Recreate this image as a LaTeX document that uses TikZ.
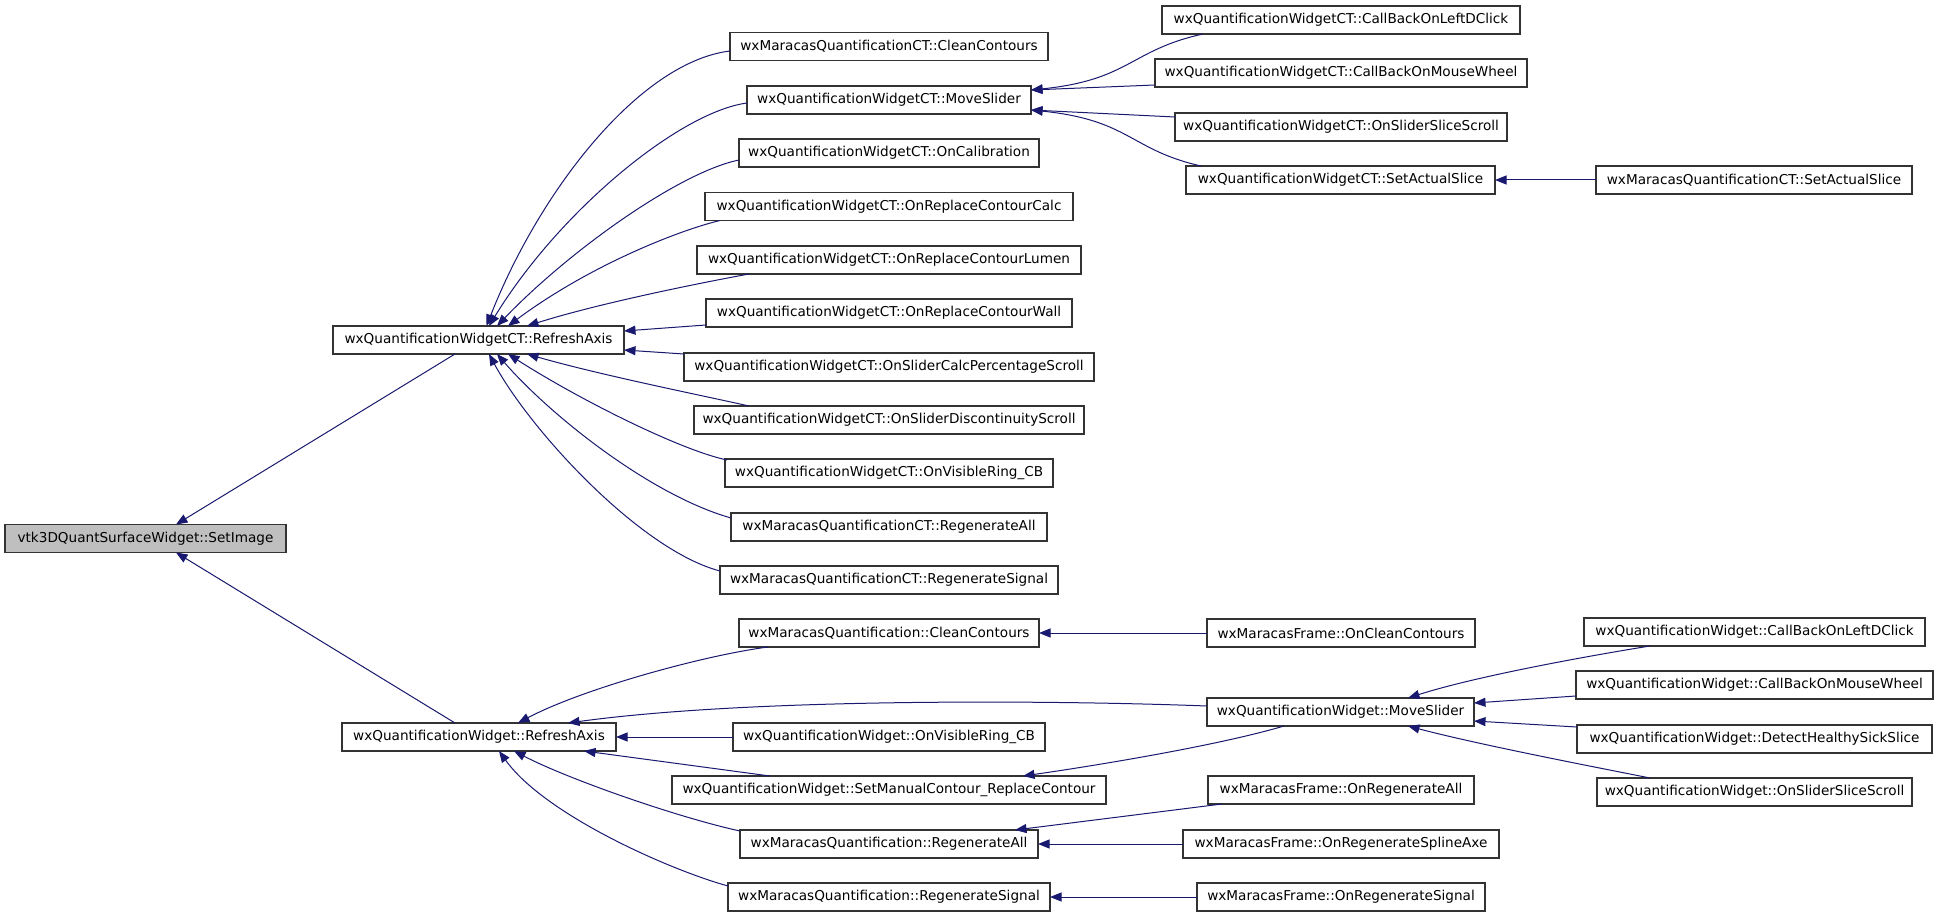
\documentclass[tikz,border=0pt]{standalone}
\usepackage{fontspec}
\setmainfont{DejaVu Sans}
\usetikzlibrary{arrows.meta}
\definecolor{edgeblue}{HTML}{191970}
\definecolor{boxgray}{HTML}{BFBFBF}
\begin{document}
\begin{tikzpicture}[x=1pt,y=-1pt,
  fn/.style={draw=black!80, line width=1.1pt, fill=white, minimum height=28pt, inner sep=0pt, outer sep=0pt,
    font=\fontsize{13.6}{16}\selectfont},
  cur/.style={fn, fill=boxgray},
  edge/.style={draw=edgeblue, line width=1pt, -{Triangle[length=11.5pt,width=9pt]}}]
\useasboundingbox (0,0) rectangle (1939,917);
\fill[white] (0,0) rectangle (1939,917);
% nodes
\node[cur, minimum width=281pt] (si) at (145.5,538.5) {vtk3DQuantSurfaceWidget::SetImage};
\node[fn, minimum width=291pt] (rac) at (478.5,340) {wxQuantificationWidgetCT::RefreshAxis};
\node[fn, minimum width=274pt] (ra) at (479,737) {wxQuantificationWidget::RefreshAxis};
\node[fn, minimum width=318pt] (ccT) at (889,46.5) {wxMaracasQuantificationCT::CleanContours};
\node[fn, minimum width=284pt] (msT) at (889,100) {wxQuantificationWidgetCT::MoveSlider};
\node[fn, minimum width=300pt] (ocal) at (889,153) {wxQuantificationWidgetCT::OnCalibration};
\node[fn, minimum width=368pt] (orcc) at (889,206.5) {wxQuantificationWidgetCT::OnReplaceContourCalc};
\node[fn, minimum width=384pt] (orcl) at (889,260) {wxQuantificationWidgetCT::OnReplaceContourLumen};
\node[fn, minimum width=366pt] (orcw) at (889,313) {wxQuantificationWidgetCT::OnReplaceContourWall};
\node[fn, minimum width=410pt] (oscp) at (889,367) {wxQuantificationWidgetCT::OnSliderCalcPercentageScroll};
\node[fn, minimum width=390pt] (osds) at (889,420) {wxQuantificationWidgetCT::OnSliderDiscontinuityScroll};
\node[fn, minimum width=328pt] (ovrT) at (889,473) {wxQuantificationWidgetCT::OnVisibleRing\_CB};
\node[fn, minimum width=316pt] (rgaT) at (889,527) {wxMaracasQuantificationCT::RegenerateAll};
\node[fn, minimum width=338pt] (rgsT) at (889,580) {wxMaracasQuantificationCT::RegenerateSignal};
\node[fn, minimum width=300pt] (cc) at (889,633) {wxMaracasQuantification::CleanContours};
\node[fn, minimum width=267pt] (ms) at (1340.5,712) {wxQuantificationWidget::MoveSlider};
\node[fn, minimum width=312pt] (ovr) at (889,737) {wxQuantificationWidget::OnVisibleRing\_CB};
\node[fn, minimum width=434pt] (smc) at (889,790) {wxQuantificationWidget::SetManualContour\_ReplaceContour};
\node[fn, minimum width=298pt] (rga) at (889,844) {wxMaracasQuantification::RegenerateAll};
\node[fn, minimum width=322pt] (rgs) at (889,897) {wxMaracasQuantification::RegenerateSignal};
\node[fn, minimum width=358pt] (cbldT) at (1341,20) {wxQuantificationWidgetCT::CallBackOnLeftDClick};
\node[fn, minimum width=372pt] (cbmwT) at (1341,73) {wxQuantificationWidgetCT::CallBackOnMouseWheel};
\node[fn, minimum width=332pt] (osssT) at (1341,127) {wxQuantificationWidgetCT::OnSliderSliceScroll};
\node[fn, minimum width=309pt] (sasT) at (1340.5,180) {wxQuantificationWidgetCT::SetActualSlice};
\node[fn, minimum width=316pt] (msas) at (1754,180) {wxMaracasQuantificationCT::SetActualSlice};
\node[fn, minimum width=268pt] (fcc) at (1341,633) {wxMaracasFrame::OnCleanContours};
\node[fn, minimum width=266pt] (fra) at (1341,790) {wxMaracasFrame::OnRegenerateAll};
\node[fn, minimum width=316pt] (frsa) at (1341,844) {wxMaracasFrame::OnRegenerateSplineAxe};
\node[fn, minimum width=288pt] (frs) at (1341,897) {wxMaracasFrame::OnRegenerateSignal};
\node[fn, minimum width=341pt] (cbld) at (1754.5,632) {wxQuantificationWidget::CallBackOnLeftDClick};
\node[fn, minimum width=357pt] (cbmw) at (1754.5,685) {wxQuantificationWidget::CallBackOnMouseWheel};
\node[fn, minimum width=355pt] (dhss) at (1754.5,739) {wxQuantificationWidget::DetectHealthySickSlice};
\node[fn, minimum width=315pt] (osss) at (1754.5,792) {wxQuantificationWidget::OnSliderSliceScroll};
% edges to SetImage
\draw[edge] ([shift={(-23.5,0)}]rac.south) -- ([shift={(30.5,0)}]si.north);
\draw[edge] ([shift={(-24,0)}]ra.north) -- ([shift={(30.5,0)}]si.south);
% edges to RefreshAxisCT
\draw[edge] ([shift={(0,4.5)}]ccT.west) .. controls (640,62) and (540,190) .. ([shift={(8,0)}]rac.north);
\draw[edge] ([shift={(0,3)}]msT.west) .. controls (680,112) and (560,210) .. ([shift={(10.5,0)}]rac.north);
\draw[edge] ([shift={(0,7)}]ocal.west) .. controls (680,172) and (570,250) .. ([shift={(18.5,0)}]rac.north);
\draw[edge] ([shift={(15,0)}]orcc.south west) .. controls (680,230) and (590,265) .. ([shift={(29.5,0)}]rac.north);
\draw[edge] ([shift={(52,0)}]orcl.south west) .. controls (700,283) and (600,303) .. ([shift={(48.5,0)}]rac.north);
\draw[edge] ([shift={(0,12)}]orcw.west) -- ([shift={(0,-9)}]rac.east);
\draw[edge] ([shift={(0,-13)}]oscp.west) -- ([shift={(0,10)}]rac.east);
\draw[edge] ([shift={(55,0)}]osds.north west) .. controls (700,395) and (600,375) .. ([shift={(48.5,0)}]rac.south);
\draw[edge] ([shift={(2,1)}]ovrT.north west) .. controls (680,450) and (580,400) .. ([shift={(29.5,0)}]rac.south);
\draw[edge] ([shift={(0,-9)}]rgaT.west) .. controls (650,495) and (550,415) .. ([shift={(18.5,0)}]rac.south);
\draw[edge] ([shift={(0,-9)}]rgsT.west) .. controls (640,550) and (530,430) .. ([shift={(10.5,0)}]rac.south);
% edges to RefreshAxis
\draw[edge] ([shift={(29,0)}]cc.south west) .. controls (700,656) and (580,690) .. ([shift={(39,0)}]ra.north);
\draw[edge] ([shift={(0,-6)}]ms.west) .. controls (1050,700) and (750,698) .. ([shift={(89,0)}]ra.north);
\draw[edge] (ovr.west) -- (ra.east);
\draw[edge] ([shift={(98,0)}]smc.north west) -- ([shift={(105,0)}]ra.south);
\draw[edge] ([shift={(0,1)}]rga.north west) .. controls (680,818) and (570,780) .. ([shift={(35,0)}]ra.south);
\draw[edge] ([shift={(0,-11)}]rgs.west) .. controls (670,870) and (545,815) .. ([shift={(20,0)}]ra.south);
% upper right
\draw[edge] ([shift={(41,0)}]cbldT.south west) .. controls (1130,50) and (1130,80) .. ([shift={(0,-10)}]msT.east);
\draw[edge] ([shift={(0,12)}]cbmwT.west) -- ([shift={(0,-10)}]msT.east);
\draw[edge] ([shift={(0,-10)}]osssT.west) -- ([shift={(0,10)}]msT.east);
\draw[edge] ([shift={(15,0)}]sasT.north west) .. controls (1130,150) and (1130,120) .. ([shift={(0,10)}]msT.east);
\draw[edge] (msas.west) -- (sasT.east);
% lower right
\draw[edge] (fcc.west) -- (cc.east);
\draw[edge] ([shift={(66,0)}]cbld.south west) .. controls (1600,654) and (1480,675) .. ([shift={(67.5,0)}]ms.north);
\draw[edge] ([shift={(0,11)}]cbmw.west) -- ([shift={(0,-9)}]ms.east);
\draw[edge] ([shift={(0,-12)}]dhss.west) -- ([shift={(0,9)}]ms.east);
\draw[edge] ([shift={(53,0)}]osss.north west) .. controls (1600,768) and (1480,745) .. ([shift={(67.5,0)}]ms.south);
\draw[edge] ([shift={(-56.5,0)}]ms.south) .. controls (1220,745) and (1100,765) .. ([shift={(134,0)}]smc.north);
\draw[edge] ([shift={(14,0)}]fra.south west) -- ([shift={(126,0)}]rga.north);
\draw[edge] (frsa.west) -- (rga.east);
\draw[edge] (frs.west) -- (rgs.east);
\end{tikzpicture}
\end{document}
